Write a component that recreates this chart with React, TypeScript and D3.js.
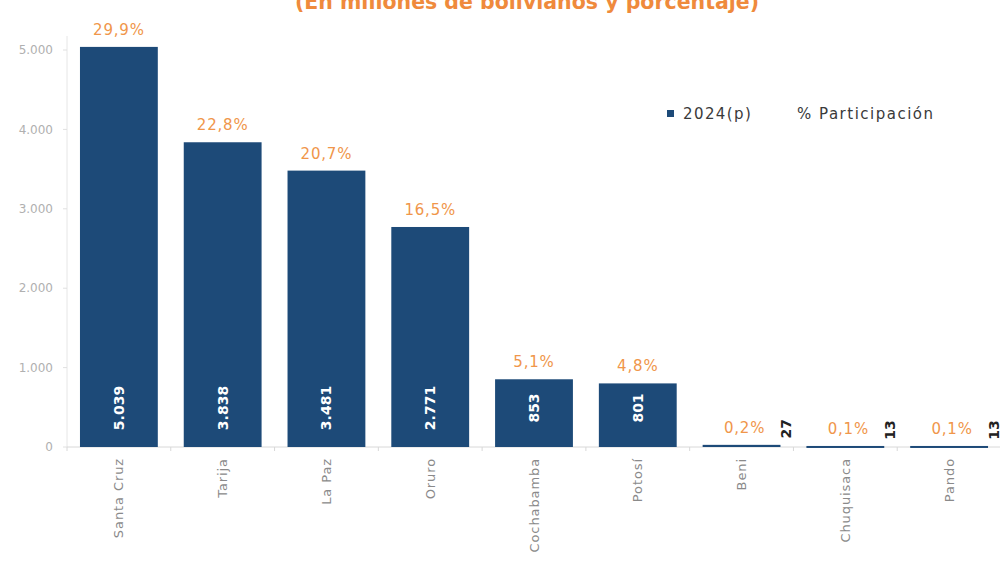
import * as d3 from 'd3';

const departments = ['Santa Cruz', 'Tarija', 'La Paz', 'Oruro', 'Cochabamba', 'Potosí', 'Beni', 'Chuquisaca', 'Pando'];
const values2024 = [5039, 3838, 3481, 2771, 853, 801, 27, 13, 13];
const shares = [29.9, 22.8, 20.7, 16.5, 5.1, 4.8, 0.2, 0.1, 0.1];
const yTicks = [0, 1000, 2000, 3000, 4000, 5000];

const esLocale = d3.formatLocale({ decimal: ',', thousands: '.', grouping: [3], currency: ['', ' Bs'] });
const fmtInt = esLocale.format(',d');
const fmtPct = esLocale.format('.1f');

const BLUE = '#1d4a78';
const ORANGE = '#ef8a3c';
const PCT = '#f0964a';
const FONT = '"DejaVu Sans", "Noto Sans", sans-serif';

const App = () => {
  const width = 1000;
  const height = 571;
  const x0 = 67;
  const x1 = 1001;
  const baseY = 447;
  const topY = 50;

  const x = d3.scaleBand().domain(departments).range([x0, x1]).paddingInner(0.25).paddingOuter(0.125);
  const y = d3.scaleLinear().domain([0, 5000]).range([baseY, topY]);
  const bw = x.bandwidth();
  const step = x.step();

  return (
    <svg width={width} height={height} style={{ position: 'absolute', left: 0, top: 0, background: '#fff' }}>
      <text x={527} y={9} textAnchor="middle" fontFamily={FONT} fontWeight="bold" fontSize={20.5} fill={ORANGE}>
        (En millones de bolivianos y porcentaje)
      </text>

      {/* y axis */}
      <line x1={x0} x2={x0} y1={topY - 14} y2={baseY} stroke="#e6e6e6" />
      {yTicks.map((t) => (
        <g key={t}>
          <line x1={x0 - 4} x2={x0} y1={y(t)} y2={y(t)} stroke="#e0e0e0" />
          <text x={53} y={y(t)} dy="0.35em" textAnchor="end" fontFamily={FONT} fontSize={12} fill="#b0b0b0">
            {fmtInt(t)}
          </text>
        </g>
      ))}

      {/* x axis */}
      <line x1={x0} x2={x1} y1={baseY} y2={baseY} stroke="#d8d8d8" />
      {departments.map((d, i) => (
        <line key={d} x1={x0 + step * i} x2={x0 + step * i} y1={baseY} y2={baseY + 4} stroke="#d8d8d8" />
      ))}

      {departments.map((d, i) => {
        const v = values2024[i];
        const bx = x(d) as number;
        const top = y(v);
        const big = v > 500;
        return (
          <g key={d}>
            <rect x={bx} y={top} width={bw} height={Math.max(baseY - top, 2)} fill={BLUE} />
            <text
              transform={big ? `translate(${bx + bw / 2},${baseY - 39}) rotate(-90)` : `translate(${bx + bw + 6},${top - 16}) rotate(-90)`}
              textAnchor="middle"
              dy="0.35em"
              fontFamily={FONT}
              fontWeight="bold"
              fontSize={14}
              fill={big ? '#fff' : '#222'}
            >
              {fmtInt(v)}
            </text>
            <text
              x={bx + bw / 2 + (big ? 0 : 3)}
              y={top - 12}
              textAnchor="middle"
              fontFamily={FONT}
              fontSize={15}
              letterSpacing={0.8}
              fill={PCT}
            >
              {fmtPct(shares[i])}%
            </text>
            <text
              transform={`translate(${bx + bw / 2},${baseY + 11}) rotate(-90)`}
              textAnchor="end"
              dy="0.35em"
              fontFamily={FONT}
              fontSize={13}
              letterSpacing={0.9}
              fill="#8a8a8a"
            >
              {d}
            </text>
          </g>
        );
      })}

      {/* legend */}
      <rect x={667} y={110} width={7} height={7} fill={BLUE} />
      <text x={683} y={114} dy="0.35em" fontFamily={FONT} fontSize={15} letterSpacing={1.4} fill="#3a3a3a">
        2024(p)
      </text>
      <text x={797} y={114} dy="0.35em" fontFamily={FONT} fontSize={15} letterSpacing={1.5} fill="#3a3a3a">
        % Participación
      </text>
    </svg>
  );
};

export default App;
